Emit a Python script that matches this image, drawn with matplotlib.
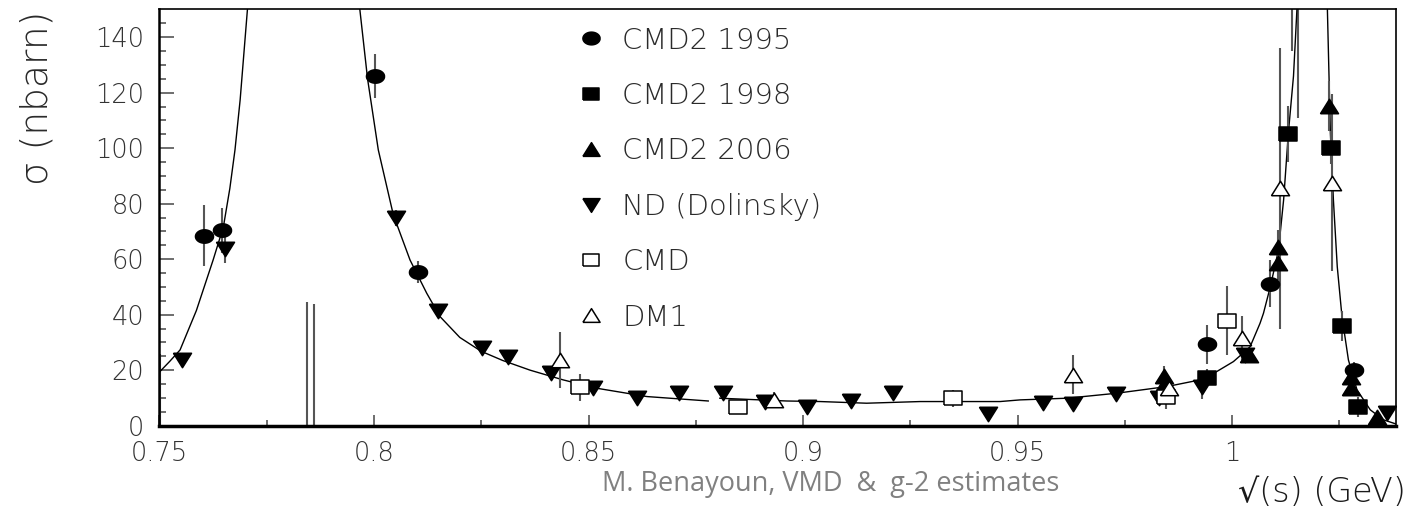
import numpy as np
import matplotlib
matplotlib.use("Agg")
import matplotlib.pyplot as plt
from matplotlib.lines import Line2D

# ---- data ----
cmd2_1995_x = [0.7604, 0.7645, 0.8002, 0.8103, 0.9941, 1.0089, 1.0283]
cmd2_1995_y = [68.5, 70.4, 126.1, 55.4, 29.3, 51.2, 20.1]
cmd2_1995_err = [11, 8, 8, 4, 7, 8.5, 3]

cmd2_1998_x = [0.9942, 1.0130, 1.0231, 1.0256, 1.0293]
cmd2_1998_y = [17.3, 105.2, 100.2, 35.9, 6.7]
cmd2_1998_err = [3, 10, 6, 5.5, 3.5]

cmd2_2006_x = [0.9842, 0.9842, 1.0040, 1.0106, 1.0106, 1.0226, 1.0278, 1.0278, 1.0337]
cmd2_2006_y = [17.9, 14.5, 25.5, 64.4, 58.5, 115.2, 17.7, 13.5, 3.3]
cmd2_2006_err = [3.5, 3, 2.5, 6, 6, 9, 2.5, 2.5, 1.5]

nd_x = [0.7552, 0.7653, 0.8051, 0.8149, 0.8251, 0.8312, 0.8412, 0.8511, 0.8612,
        0.8712, 0.8813, 0.8911, 0.9010, 0.9111, 0.9209, 0.9432, 0.9560, 0.9630,
        0.9730, 0.9830, 0.9929, 1.0030, 1.0361]
nd_y = [23.7, 63.7, 74.8, 41.3, 28.1, 24.9, 19.1, 13.5, 9.9,
        11.9, 11.9, 8.7, 6.6, 8.9, 11.7, 4.1, 8.1, 7.7,
        11.3, 10.1, 14.1, 25.5, 4.5]
nd_err = [2.5, 5, 3, 2, 1.5, 2.5, 2, 1.5, 1,
          1, 1, 1, 1, 1, 1, 1, 1, 1,
          2.5, 2.5, 4.5, 2.5, 2.5]

cmd_x = [0.8480, 0.8849, 0.9350, 0.9845, 0.9988]
cmd_y = [13.8, 6.6, 9.9, 10.5, 37.9]
cmd_err = [5, 2, 3, 4.5, 12.3]

dm1_x = [0.8434, 0.8933, 0.9630, 0.9852, 1.0023, 1.0112, 1.0232]
dm1_y = [23.7, 9.3, 18.3, 13.5, 31.5, 85.6, 87.6]
dm1_err = [10.2, 3, 7, 3, 8, 50.7, 32]

# bare error-bar segments whose points lie outside the frame
stray_x = [0.7502, 0.7843, 0.7861, 1.0139, 1.0153]
stray_lo = [0.0, 0.0, 0.0, 134.9, 111.0]
stray_hi = [25.8, 44.7, 43.9, 160.0, 160.0]

# fit curve (nan = curve leaves the frame / breaks)
curve_x = [0.7501, 0.7524, 0.7548, 0.7586, 0.7625, 0.7649, 0.7664, 0.7676, 0.7688,
           0.7705, np.nan,
           0.7967, 0.7985, 0.8010, 0.8045, 0.8084, 0.8123, 0.8154, 0.8200, 0.8250, 0.8300,
           0.8364, 0.8441, 0.8519, 0.8636, 0.8779, np.nan,
           0.8806, 0.8962, 0.9040, 0.9148, 0.9273, 0.9459, 0.9506, 0.9615, 0.9731, 0.9848,
           0.9925, 0.9964, 1.0003, 1.0034, 1.0042, 1.0065, 1.0073, 1.0089, 1.0108, 1.0120,
           1.0131, 1.0143, 1.0151, np.nan,
           1.0222, 1.0229, 1.0236, 1.0245, 1.0256, 1.0271, 1.0291, 1.0322, 1.0353, 1.0388]
curve_y = [19.5, 23.2, 27.3, 41.5, 59.7, 71.7, 85.5, 99.4, 117.4,
           150, np.nan,
           150, 125, 99.4, 76, 59.7, 47.7, 39.3, 31.8, 26.8, 23.5,
           20.0, 16.5, 13.5, 10.5, 8.9, np.nan,
           9.9, 8.9, 8.7, 8.1, 8.7, 8.7, 9.3, 9.9, 11.7, 14.1,
           16.5, 19.5, 23.1, 27.3, 28.5, 36.9, 40.5, 50.1, 63.3, 81.4,
           105.4, 126, 150, np.nan,
           150, 105.4, 81.4, 57.3, 39.3, 23.7, 12.9, 5.7, 2.1, 0.3]

x_ticks = [0.75, 0.8, 0.85, 0.9, 0.95, 1.0]
x_ticklabels = ["0.75", "0.8", "0.85", "0.9", "0.95", "1"]
y_ticks = [0, 20, 40, 60, 80, 100, 120, 140]
y_ticklabels = ["0", "20", "40", "60", "80", "100", "120", "140"]

labels = ["CMD2 1995", "CMD2 1998", "CMD2 2006", "ND (Dolinsky)", "CMD", "DM1"]

# thin, wide font close to the ROOT one
plt.rcParams["font.family"] = ["DejaVu Sans", "Noto Sans", "DejaVu Serif"]
plt.rcParams["font.weight"] = "light"

# ---- marker shapes (slightly wider than tall, as in the original) ----
t = np.linspace(0, 2 * np.pi, 41)
ellipse = list(zip(1.35 * np.cos(t), np.sin(t)))
wide_square = [(-1.2, -0.9), (1.2, -0.9), (1.2, 0.9), (-1.2, 0.9), (-1.2, -0.9)]
tri_up = [(-1, -0.8), (1, -0.8), (0, 0.8), (-1, -0.8)]
tri_down = [(-1, 0.8), (1, 0.8), (0, -0.8), (-1, 0.8)]

fig = plt.figure(figsize=(14.1, 5.13), dpi=100)
ax = fig.add_axes([0.1131, 0.1702, 0.8770, 0.8113])

err_color = "#555555"
series = [
    (cmd2_1995_x, cmd2_1995_y, cmd2_1995_err, ellipse, "black", 13),
    (cmd2_1998_x, cmd2_1998_y, cmd2_1998_err, wide_square, "black", 12.5),
    (cmd2_2006_x, cmd2_2006_y, cmd2_2006_err, tri_up, "black", 13),
    (nd_x, nd_y, nd_err, tri_down, "black", 13),
    (cmd_x, cmd_y, cmd_err, wide_square, "white", 12.5),
    (dm1_x, dm1_y, dm1_err, tri_up, "white", 13),
]

ax.plot(curve_x, curve_y, color="black", lw=1.0, zorder=2)
ax.vlines(stray_x, stray_lo, stray_hi, color=err_color, lw=1.5, zorder=1)

for xs, ys, es, mk, fc, ms in series:
    ax.errorbar(xs, ys, yerr=es, fmt="none", ecolor=err_color, elinewidth=1.5,
                capsize=0, zorder=3)
    ax.plot(xs, ys, linestyle="none", marker=mk, markersize=ms,
            markerfacecolor=fc, markeredgecolor="black", markeredgewidth=1.1,
            zorder=4)

ax.set_xlim(0.75, 1.0382)
ax.set_ylim(0, 150)

ax.set_xticks(x_ticks)
ax.set_xticklabels(x_ticklabels)
ax.set_xticks(np.arange(0.775, 1.03, 0.05), minor=True)
ax.set_yticks(y_ticks)
ax.set_yticklabels(y_ticklabels)
ax.set_yticks(np.arange(0, 150, 5), minor=True)

ax.tick_params(axis="both", which="both", direction="in", color="#555555",
               labelcolor="#333333", labelsize=18.5, width=1.2)
ax.tick_params(axis="y", which="major", length=10.5, pad=11)
ax.tick_params(axis="y", which="minor", length=5.3)
ax.tick_params(axis="x", which="major", length=8, pad=11)
ax.tick_params(axis="x", which="minor", length=4)

ax.spines["bottom"].set_linewidth(2.5)
ax.spines["left"].set_linewidth(1.8)
ax.spines["top"].set_linewidth(1.2)
ax.spines["right"].set_linewidth(1.2)

# legend
handles = []
for xs, ys, es, mk, fc, ms in series:
    handles.append(Line2D([], [], linestyle="none", marker=mk, markersize=ms * 0.95,
                          markerfacecolor=fc, markeredgecolor="black",
                          markeredgewidth=1.1))
ax.legend(handles, labels, loc="upper left", bbox_to_anchor=(0.3377, 0.959),
          frameon=False, fontsize=21, labelcolor="#2a2a2a", handlelength=0.95,
          handletextpad=0.6, labelspacing=0.94, borderpad=0, borderaxespad=0)

# axis titles
fig.text(37 / 1410, 1 - 11 / 513, "σ (nbarn)", rotation=90, ha="center", va="top",
         fontsize=27, color="#2a2a2a")
fig.text(1406 / 1410, 1 - 493 / 513, "√(s) (GeV)", ha="right", va="center",
         fontsize=24, color="#1a1a1a")
fig.text(831 / 1410, 1 - 484 / 513, "M. Benayoun, VMD  &  g-2 estimates",
         ha="center", va="center", fontsize=19.5, color="#808080",
         family=["Open Sans", "DejaVu Sans"], weight="normal")

fig.savefig("out.png", dpi=100, facecolor="white")
